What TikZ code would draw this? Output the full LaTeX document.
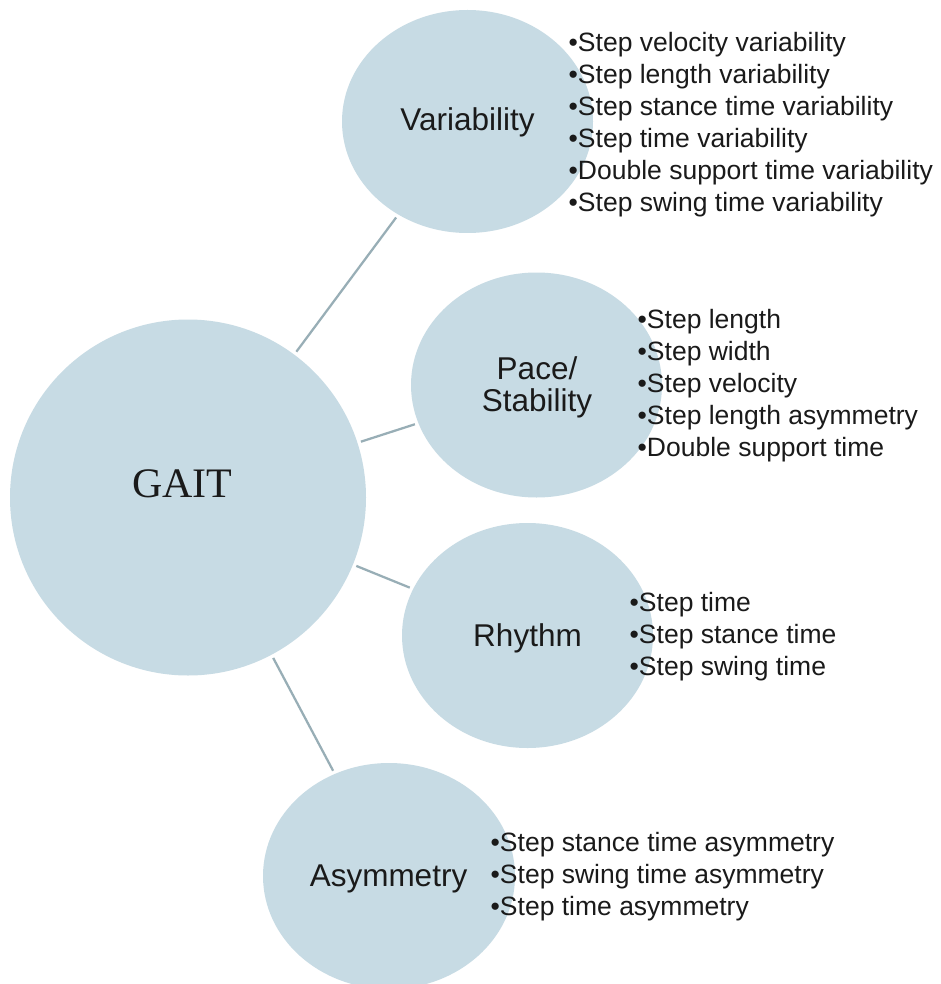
\documentclass[tikz,border=0pt]{standalone}
\usepackage{fontspec}
\setmainfont{Liberation Sans}
\newfontfamily\gaitfont{Liberation Serif}
\usetikzlibrary{shapes.geometric}
\definecolor{bubblefill}{RGB}{199,219,228}
\definecolor{linkcol}{RGB}{152,174,182}
\definecolor{txtcol}{RGB}{26,26,26}
\tikzset{
  bubble/.style={ellipse, fill=bubblefill, draw=none, inner sep=0pt},
  link/.style={draw=linkcol, line width=2.25pt, shorten <=3.5pt, shorten >=3.5pt},
  title/.style={inner sep=0pt, text=txtcol, font=\fontsize{31.5}{32}\selectfont},
  gaittitle/.style={inner sep=0pt, text=txtcol, font=\gaitfont\fontsize{42}{48}\selectfont},
  items/.style={inner sep=0pt, anchor=west, align=left, text=txtcol, font=\fontsize{26.5}{32}\selectfont}
}
\begin{document}
\begin{tikzpicture}[x=1pt,y=-1pt]
\path[use as bounding box, fill=white] (0,0) rectangle (940,984);

% bubbles
\node[bubble, minimum width=356pt, minimum height=356pt] (gait) at (188,497.5) {};
\node[bubble, minimum width=251pt, minimum height=223pt] (var) at (467.5,121.5) {};
\node[bubble, minimum width=251pt, minimum height=225pt] (pace) at (536.5,385) {};
\node[bubble, minimum width=251pt, minimum height=225pt] (rhy) at (527.5,635.5) {};
\node[bubble, minimum width=252pt, minimum height=226pt] (asy) at (389,876) {};

% connectors
\draw[link] (gait) -- (var);
\draw[link] (gait) -- (pace);
\draw[link] (gait) -- (rhy);
\draw[link] (gait) -- (asy);

% titles
\node[gaittitle, anchor=base] (gaitlabel) at (182.5,497) {GAIT};
\node[title, anchor=base] (varlabel) at (467.5,131) {Variability};
\node[title, align=center] (pacelabel) at (537,387) {Pace/\\Stability};
\node[title, anchor=base] (rhylabel) at (527.5,646) {Rhythm};
\node[title, anchor=base] (asylabel) at (388.5,886) {Asymmetry};

% item lists
\node[items] (varitems) at (568.5,124.15) {•Step velocity variability\\•Step length variability\\•Step stance time variability\\•Step time variability\\•Double support time variability\\•Step swing time variability};
\node[items] (paceitems) at (637.5,385.15) {•Step length\\•Step width\\•Step velocity\\•Step length asymmetry\\•Double support time};
\node[items] (rhyitems) at (629.5,636.15) {•Step time\\•Step stance time\\•Step swing time};
\node[items] (asyitems) at (490.5,876.15) {•Step stance time asymmetry\\•Step swing time asymmetry\\•Step time asymmetry};
\end{tikzpicture}
\end{document}
